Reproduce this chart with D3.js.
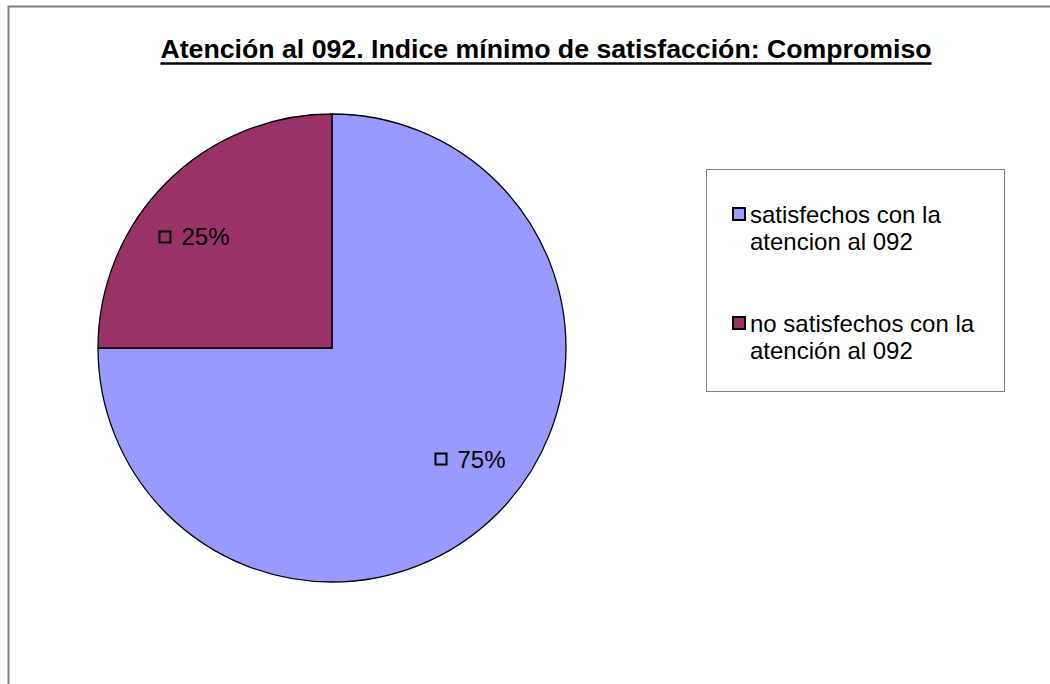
<!DOCTYPE html>
<html>
<head>
<meta charset="utf-8">
<script src="https://cdn.jsdelivr.net/npm/d3@7"></script>
<style>
  body { margin: 0; background: #fff; }
  text { font-family: "Liberation Sans", Arial, sans-serif; fill: #000; }
</style>
</head>
<body>
<div id="chart"></div>
<script>
// chart data
var titleText = "Atención al 092. Indice mínimo de satisfacción: Compromiso";
var categories = ["satisfechos con la atencion al 092", "no satisfechos con la atención al 092"];
var legendLines = [["satisfechos con la", "atencion al 092"], ["no satisfechos con la", "atención al 092"]];
var values = [75, 25];
var colors = ["#9999FF", "#993366"];

var width = 1050, height = 684;

var svg = d3.select("#chart").append("svg")
    .attr("width", width)
    .attr("height", height);

// outer chart border (cut off at right/bottom)
svg.append("rect")
    .attr("x", 8.5).attr("y", 6.5)
    .attr("width", 1060).attr("height", 700)
    .attr("fill", "none")
    .attr("stroke", "#808080")
    .attr("stroke-width", 2);

// title
var title = svg.append("text")
    .attr("x", 546)
    .attr("y", 58)
    .attr("text-anchor", "middle")
    .style("font-size", "26.7px")
    .style("font-weight", "bold")
    .text(titleText);
var tb = title.node().getBBox();
svg.append("line")
    .attr("x1", tb.x).attr("x2", tb.x + tb.width)
    .attr("y1", 63.5).attr("y2", 63.5)
    .attr("stroke", "#000").attr("stroke-width", 2.5);

// pie
var cx = 332, cy = 348, r = 234;

var pie = d3.pie().sort(null).value(function(d){ return d; });
var arc = d3.arc().innerRadius(0).outerRadius(r);

var g = svg.append("g").attr("transform", "translate(" + cx + "," + cy + ")");
var arcs = pie(values);

g.selectAll("path")
    .data(arcs)
    .enter().append("path")
    .attr("d", arc)
    .attr("fill", function(d, i){ return colors[i]; })
    .attr("stroke", "#000")
    .attr("stroke-width", 1.3);

// data labels: roughly at 3/4 radius, nudged a bit counterclockwise like Excel does
var labelR = r * 0.757, labelShift = -0.108;

var labels = g.selectAll("g.lbl")
    .data(arcs)
    .enter().append("g")
    .attr("class", "lbl");

labels.each(function(d){
    var lg = d3.select(this);
    var a = (d.startAngle + d.endAngle) / 2 + labelShift;
    var c = [Math.sin(a) * labelR, -Math.cos(a) * labelR];
    var txt = lg.append("text")
        .style("font-size", "24px")
        .text(d.value + "%");
    var tw = txt.node().getComputedTextLength();
    var total = 13 + 10 + tw;
    var x0 = c[0] - total / 2;
    lg.append("rect")
        .attr("x", x0 + 1).attr("y", c[1] - 5.5)
        .attr("width", 11).attr("height", 11)
        .attr("fill", "none")
        .attr("stroke", "#000")
        .attr("stroke-width", 2);
    txt.attr("x", x0 + 23).attr("y", c[1] + 8.5);
});

// legend
var legend = svg.append("g");
legend.append("rect")
    .attr("x", 706.5).attr("y", 169.5)
    .attr("width", 298).attr("height", 222)
    .attr("fill", "#fff")
    .attr("stroke", "#808080")
    .attr("stroke-width", 1);

var items = legend.selectAll("g.item")
    .data(categories)
    .enter().append("g")
    .attr("class", "item")
    .attr("transform", function(d, i){ return "translate(732," + (207 + i * 109) + ")"; });

items.append("rect")
    .attr("x", 1).attr("y", 1)
    .attr("width", 12).attr("height", 12)
    .attr("fill", function(d, i){ return colors[i]; })
    .attr("stroke", "#000")
    .attr("stroke-width", 2);

items.each(function(d, i){
    var t = d3.select(this).append("text")
        .attr("x", 18)
        .attr("y", 16)
        .style("font-size", "24px");
    legendLines[i].forEach(function(line, j){
        t.append("tspan")
            .attr("x", 18)
            .attr("dy", j === 0 ? 0 : 27)
            .text(line);
    });
});
</script>
</body>
</html>
